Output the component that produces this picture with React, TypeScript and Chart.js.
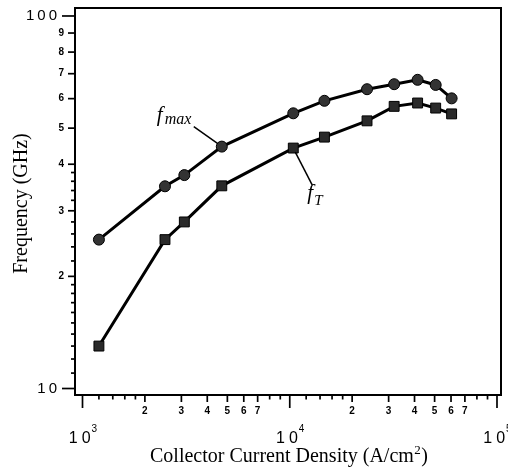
import React, { useEffect, useRef } from "react";
import { Chart, registerables } from "chart.js";

Chart.register(...registerables);

// ---- data ----
const currentDensity = [1200, 2500, 3100, 4700, 10400, 14700, 23600, 31900, 41400, 50600, 60400];
const fmaxGHz = [25.1, 34.9, 37.4, 44.6, 54.8, 59.2, 63.6, 65.6, 67.4, 65.3, 60.1];
const fTGHz = [13.0, 25.1, 28.0, 35.0, 44.2, 47.3, 52.3, 57.2, 58.4, 56.6, 54.6];

// ---- axis ticks ----
const yMajorTicks = [10, 100];
const yMajorLabels = ["10", "100"];
const yMinorTicks = [20, 30, 40, 50, 60, 70, 80, 90];
const yMinorLabels = ["2", "3", "4", "5", "6", "7", "8", "9"];
const ySmallTicks = [11, 12, 13, 14, 15, 16, 17, 18, 19, 22, 24, 26, 28, 32, 34, 36, 38];

const xMajorTicks = [1e3, 1e4, 1e5];
const xMajorBase = "10";
const xMajorExponents = ["3", "4", "5"];
const xMinorTicks = [2000, 3000, 4000, 5000, 6000, 7000, 20000, 30000, 40000, 50000, 60000, 70000];
const xMinorLabels = ["2", "3", "4", "5", "6", "7", "2", "3", "4", "5", "6", "7"];
const xSmallTicks = [1200, 1400, 1600, 1800, 8000, 9000, 12000, 14000, 16000, 18000, 80000, 90000];

const xRange = [920, 104550];
const yRange = [9.607, 105.06];

const xTitleMain = "Collector Current Density (A/cm";
const xTitleSup = "2";
const xTitleEnd = ")";
const yTitle = "Frequency (GHz)";

const SANS = "'Liberation Sans', Arial, sans-serif";
const SERIF = "'Liberation Serif', 'Times New Roman', serif";

function drawSpaced(ctx: CanvasRenderingContext2D, text: string, x: number, y: number, spacing: number, align: "left" | "right" | "center") {
  const widths = text.split("").map((c) => ctx.measureText(c).width);
  const total = widths.reduce((s, w) => s + w, 0) + spacing * (text.length - 1);
  let start = x;
  if (align === "right") start = x - total;
  else if (align === "center") start = x - total / 2;
  ctx.textAlign = "left";
  let cx = start;
  text.split("").forEach((c, i) => {
    ctx.fillText(c, cx, y);
    cx += widths[i] + spacing;
  });
  return { start, end: start + total };
}

const decorPlugin = {
  id: "decor",
  afterDraw(chart: any) {
    const { ctx, chartArea: a } = chart;
    const xs = chart.scales.x;
    const ys = chart.scales.y;
    ctx.save();
    ctx.strokeStyle = "#000";
    ctx.fillStyle = "#000";

    // top & right frame
    ctx.lineWidth = 2;
    ctx.beginPath();
    ctx.moveTo(a.left, a.top);
    ctx.lineTo(a.right, a.top);
    ctx.lineTo(a.right, a.bottom);
    ctx.stroke();

    // y tick marks
    ctx.lineWidth = 1.7;
    const yTick = (v: number, len: number) => {
      const py = ys.getPixelForValue(v);
      ctx.beginPath();
      ctx.moveTo(a.left, py);
      ctx.lineTo(a.left - len, py);
      ctx.stroke();
    };
    yMajorTicks.forEach((v) => yTick(v, 13));
    yMinorTicks.forEach((v) => yTick(v, 7));
    ySmallTicks.forEach((v) => yTick(v, 4));

    // x tick marks
    const xTick = (v: number, len: number) => {
      const px = xs.getPixelForValue(v);
      ctx.beginPath();
      ctx.moveTo(px, a.bottom);
      ctx.lineTo(px, a.bottom + len);
      ctx.stroke();
    };
    xMajorTicks.forEach((v) => xTick(v, 13));
    xMinorTicks.forEach((v) => xTick(v, 7));
    xSmallTicks.forEach((v) => xTick(v, 4.5));

    // y labels
    ctx.textBaseline = "middle";
    ctx.font = `15px ${SANS}`;
    yMajorTicks.forEach((v, i) => {
      drawSpaced(ctx, yMajorLabels[i], a.left - 18, ys.getPixelForValue(v), 3, "right");
    });
    ctx.font = `bold 10px ${SANS}`;
    yMinorTicks.forEach((v, i) => {
      drawSpaced(ctx, yMinorLabels[i], a.left - 11, ys.getPixelForValue(v), 0, "right");
    });

    // x labels
    ctx.font = `bold 10px ${SANS}`;
    xMinorTicks.forEach((v, i) => {
      drawSpaced(ctx, xMinorLabels[i], xs.getPixelForValue(v), a.bottom + 16, 0, "center");
    });
    xMajorTicks.forEach((v, i) => {
      const px = xs.getPixelForValue(v);
      ctx.font = `16px ${SANS}`;
      ctx.textBaseline = "alphabetic";
      const baseW = ctx.measureText("1").width + ctx.measureText("0").width + 4;
      ctx.font = `10px ${SANS}`;
      const supW = ctx.measureText(xMajorExponents[i]).width;
      const start = px - (baseW + supW) / 2;
      ctx.font = `16px ${SANS}`;
      const r = drawSpaced(ctx, xMajorBase, start, a.bottom + 48, 4, "left");
      ctx.font = `10px ${SANS}`;
      ctx.fillText(xMajorExponents[i], r.end + 1, a.bottom + 37);
    });

    // axis titles
    ctx.textBaseline = "alphabetic";
    ctx.font = `20px ${SERIF}`;
    ctx.save();
    ctx.translate(27, (a.top + a.bottom) / 2 + 2);
    ctx.rotate(-Math.PI / 2);
    ctx.textAlign = "center";
    ctx.fillText(yTitle, 0, 0);
    ctx.restore();

    ctx.font = `20px ${SERIF}`;
    const w1 = ctx.measureText(xTitleMain).width;
    const w3 = ctx.measureText(xTitleEnd).width;
    ctx.font = `13px ${SERIF}`;
    const w2 = ctx.measureText(xTitleSup).width;
    const tx = 289 - (w1 + w2 + w3 + 1) / 2;
    const ty = 462;
    ctx.textAlign = "left";
    ctx.font = `20px ${SERIF}`;
    ctx.fillText(xTitleMain, tx, ty);
    ctx.font = `13px ${SERIF}`;
    ctx.fillText(xTitleSup, tx + w1 + 0.5, ty - 8);
    ctx.font = `20px ${SERIF}`;
    ctx.fillText(xTitleEnd, tx + w1 + w2 + 1, ty);

    // curve annotations
    ctx.lineWidth = 1.5;
    const pm = { x: xs.getPixelForValue(currentDensity[3]), y: ys.getPixelForValue(fmaxGHz[3]) };
    ctx.beginPath();
    ctx.moveTo(pm.x - 28, pm.y - 20);
    ctx.lineTo(pm.x - 4, pm.y - 3);
    ctx.stroke();
    ctx.font = `italic 21px ${SERIF}`;
    ctx.fillText("f", pm.x - 65, pm.y - 26);
    ctx.font = `italic 16px ${SERIF}`;
    ctx.fillText("max", pm.x - 57, pm.y - 23);

    const pt = { x: xs.getPixelForValue(currentDensity[4]), y: ys.getPixelForValue(fTGHz[4]) };
    ctx.beginPath();
    ctx.moveTo(pt.x + 2, pt.y + 4);
    ctx.lineTo(pt.x + 19, pt.y + 37);
    ctx.stroke();
    ctx.font = `italic 21px ${SERIF}`;
    ctx.fillText("f", pt.x + 14, pt.y + 51);
    ctx.font = `italic 15px ${SERIF}`;
    ctx.fillText("T", pt.x + 21, pt.y + 57);

    ctx.restore();
  },
};

export default function App() {
  const ref = useRef<HTMLCanvasElement>(null);
  useEffect(() => {
    if (!ref.current) return;
    const chart = new Chart(ref.current, {
      type: "scatter",
      data: {
        datasets: [
          {
            label: "fmax",
            data: currentDensity.map((x, i) => ({ x, y: fmaxGHz[i] })),
            showLine: true,
            borderColor: "#000",
            borderWidth: 3,
            pointStyle: "circle",
            pointRadius: 5.5,
            pointBackgroundColor: "#333",
            pointBorderColor: "#000",
            pointBorderWidth: 1,
          },
          {
            label: "fT",
            data: currentDensity.map((x, i) => ({ x, y: fTGHz[i] })),
            showLine: true,
            borderColor: "#000",
            borderWidth: 3,
            pointStyle: "rect",
            pointRadius: 7,
            pointBackgroundColor: "#2a2a2a",
            pointBorderColor: "#000",
            pointBorderWidth: 1,
          },
        ],
      },
      options: {
        animation: false,
        responsive: true,
        maintainAspectRatio: false,
        layout: { autoPadding: false, padding: { left: 75, top: 8, right: 7, bottom: 76 } },
        plugins: { legend: { display: false }, tooltip: { enabled: false } },
        events: [],
        scales: {
          x: {
            type: "logarithmic",
            min: xRange[0],
            max: xRange[1],
            bounds: "data",
            grid: { display: false, drawTicks: false, tickLength: 0 },
            border: { display: true, color: "#000", width: 2 },
            ticks: { display: false },
          },
          y: {
            type: "logarithmic",
            min: yRange[0],
            max: yRange[1],
            bounds: "data",
            grid: { display: false, drawTicks: false, tickLength: 0 },
            border: { display: true, color: "#000", width: 2 },
            ticks: { display: false },
          },
        },
      },
      plugins: [decorPlugin],
    } as any);
    return () => chart.destroy();
  }, []);
  return (
    <div style={{ position: "absolute", left: 0, top: 0, width: 508, height: 471, background: "#fff" }}>
      <canvas ref={ref} />
    </div>
  );
}
